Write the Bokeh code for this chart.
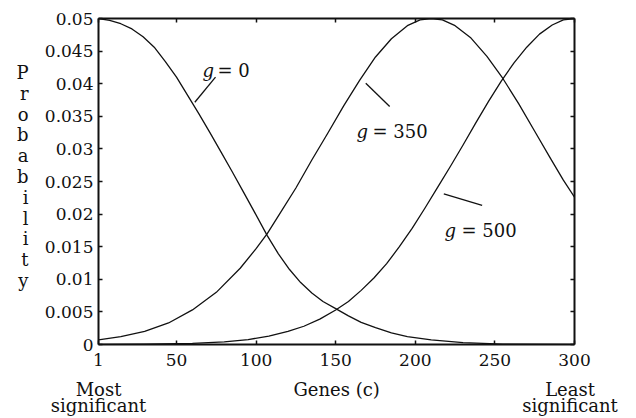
from bokeh.plotting import figure
from bokeh.models import LinearAxis, FixedTicker, Label, Range1d
from bokeh.embed import file_html
from bokeh.resources import INLINE

# ---- data ----
c_g0 = [1, 8, 15, 22, 29, 36, 43, 50, 57, 64, 71, 78, 85, 92, 99, 107, 114, 121, 128, 135,
        142, 150, 158, 166, 175, 185, 195, 210, 230, 255, 300]
p_g0 = [0.0500, 0.0497, 0.0492, 0.0484, 0.0472, 0.0456, 0.0434, 0.0410, 0.0382, 0.0354, 0.0325,
        0.0295, 0.0265, 0.0234, 0.0203, 0.0167, 0.0139, 0.0115, 0.0095, 0.0079, 0.0066, 0.0055,
        0.0044, 0.0034, 0.0026, 0.0018, 0.0012, 0.0007, 0.0003, 0.00005, 0.0]

c_g350 = [1, 15, 30, 45, 60, 75, 90, 100, 107, 115, 125, 135, 145, 155, 165, 175, 185, 195, 203,
          210, 217, 225, 235, 245, 255, 265, 275, 285, 293, 300]
p_g350 = [0.0007, 0.0012, 0.0020, 0.0033, 0.0053, 0.0080, 0.0117, 0.0147, 0.0170, 0.0201, 0.0240,
          0.0283, 0.0324, 0.0366, 0.0405, 0.0441, 0.0469, 0.0489, 0.0498, 0.0500, 0.0498, 0.0489,
          0.0470, 0.0442, 0.0408, 0.0369, 0.0327, 0.0285, 0.0252, 0.0226]

c_g500 = [1, 30, 60, 80, 95, 108, 120, 130, 140, 150, 158, 166, 174, 182, 190, 198, 206, 214, 222,
          230, 238, 246, 254, 262, 270, 278, 286, 293, 300]
p_g500 = [0.00003, 0.00007, 0.00016, 0.0004, 0.00075, 0.0013, 0.0020, 0.0028, 0.0039, 0.0053,
          0.0066, 0.0083, 0.0102, 0.0124, 0.0150, 0.0178, 0.0209, 0.0241, 0.0273, 0.0306, 0.0340,
          0.0373, 0.0404, 0.0432, 0.0456, 0.0476, 0.0490, 0.0498, 0.0500]

x_ticks = [1, 50, 100, 150, 200, 250, 300]
y_ticks = [0, 0.005, 0.01, 0.015, 0.02, 0.025, 0.03, 0.035, 0.04, 0.045, 0.05]
y_tick_labels = ["0", "0.005", "0.01", "0.015", "0.02", "0.025", "0.03", "0.035", "0.04", "0.045", "0.05"]

y_title_letters = list("Probability")
x_title = "Genes (c)"
x_end_left = "Most\nsignificant"
x_end_right = "Least\nsignificant"

FONT = "DejaVu Serif"
INK = "#111111"

p = figure(frame_width=476, frame_height=326,
           x_range=Range1d(1, 300), y_range=Range1d(0, 0.05),
           output_backend="svg", toolbar_location=None,
           min_border_left=98, min_border_right=62, min_border_top=18, min_border_bottom=74)
p.xgrid.grid_line_color = None
p.ygrid.grid_line_color = None
p.outline_line_color = None
p.background_fill_color = "white"
p.border_fill_color = "white"


def style_axis(ax, labels=True, standoff=5):
    ax.major_tick_in = 4
    ax.major_tick_out = 0
    ax.minor_tick_line_color = None
    ax.axis_line_width = 2
    ax.axis_line_color = INK
    ax.major_tick_line_color = INK
    ax.major_tick_line_width = 1.5
    if labels:
        ax.major_label_text_font = FONT
        ax.major_label_text_font_size = "17px"
        ax.major_label_text_color = INK
        ax.major_label_standoff = standoff
    else:
        ax.major_label_overrides = {t: "" for t in ax.ticker.ticks}
        ax.major_label_text_font_size = "1px"
        ax.major_label_standoff = 0


def text_axis(ax, standoff):
    ax.axis_line_color = None
    ax.major_tick_line_color = None
    ax.minor_tick_line_color = None
    ax.major_tick_in = 0
    ax.major_tick_out = 0
    ax.major_label_text_font = FONT
    ax.major_label_text_font_size = "18px"
    ax.major_label_text_color = INK
    ax.major_label_standoff = standoff


xa = p.xaxis[0]
xa.ticker = FixedTicker(ticks=x_ticks)
style_axis(xa, True, 9)

ya = p.yaxis[0]
ya.ticker = FixedTicker(ticks=y_ticks)
ya.major_label_overrides = {t: s for t, s in zip(y_ticks, y_tick_labels)}
style_axis(ya, True, 5)

top = LinearAxis(ticker=FixedTicker(ticks=x_ticks))
style_axis(top, False)
p.add_layout(top, "above")
right = LinearAxis(ticker=FixedTicker(ticks=y_ticks))
style_axis(right, False)
p.add_layout(right, "right")

# second bottom "axis" carrying the x-axis texts
title_pos = [1, 150.6, 297.2]
xt = LinearAxis(ticker=FixedTicker(ticks=title_pos))
xt.major_label_overrides = dict(zip(title_pos, [x_end_left, x_title, x_end_right]))
text_axis(xt, 10)
xt.major_label_text_line_height = 0.8
p.add_layout(xt, "below")

# stacked y-axis title as an extra left "axis"
letter_pos = [(272 - 20.8 * i) * 0.05 / 326 for i in range(len(y_title_letters))]
yt = LinearAxis(ticker=FixedTicker(ticks=letter_pos))
yt.major_label_overrides = dict(zip(letter_pos, y_title_letters))
text_axis(yt, 13)
yt.major_label_text_align = "center"
p.add_layout(yt, "left")

for cx, py in [(c_g0, p_g0), (c_g350, p_g350), (c_g500, p_g500)]:
    p.line(cx, py, line_color=INK, line_width=1.3, line_join="round")

# leader lines for curve labels
p.segment(x0=[74.5, 168.9, 217.9], y0=[0.0410, 0.04008, 0.02311],
          x1=[61.5, 183.9, 242.0], y1=[0.03716, 0.0365, 0.02132],
          line_color=INK, line_width=1.3)


def lab(x, y, text, style="normal"):
    p.add_layout(Label(x=x, y=y, x_units="screen", y_units="screen", text=text,
                       text_font=FONT, text_font_size="18px", text_font_style=style,
                       text_color=INK, text_align="left", text_baseline="alphabetic"))


for gx, ex, by, num in [(104, 119, 274, "= 0"), (258, 274, 213.5, "= 350"), (346, 363, 114, "= 500")]:
    lab(gx, by, "g", style="italic")
    lab(ex, by, num)

open("out.html", "w").write(file_html(p, INLINE))
